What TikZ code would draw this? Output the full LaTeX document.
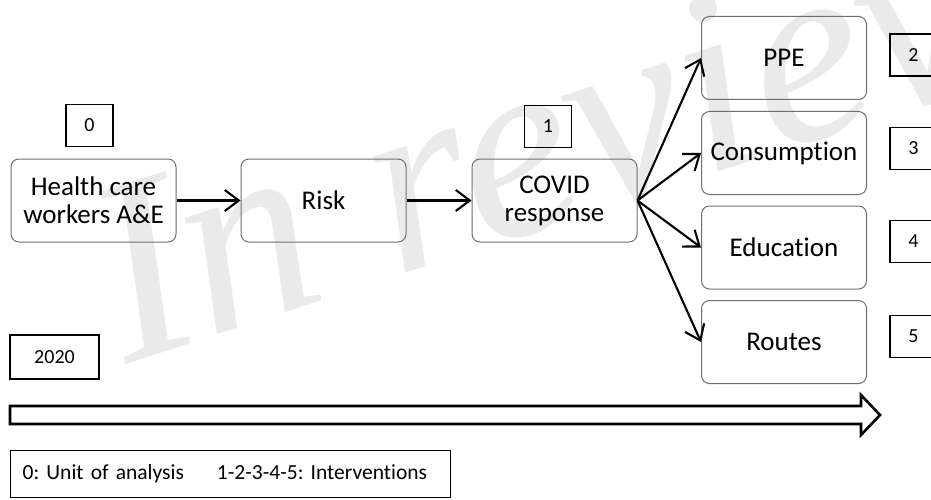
\documentclass[tikz,border=0pt]{standalone}
\usepackage{fontspec}
\setmainfont{Carlito}[RawFeature=-liga]
\newfontfamily\wmfont{Liberation Serif}
\usetikzlibrary{arrows.meta,positioning}
\definecolor{edge}{HTML}{6E6E6E}
\definecolor{wm}{HTML}{EAEAEA}
\tikzset{
  stage/.style={draw=edge, line width=1pt, rounded corners=8pt, align=center,
                minimum width=165pt, minimum height=83pt, inner sep=2pt,
                font=\fontsize{27}{28}\selectfont},
  num/.style={draw=black, line width=1.2pt, minimum width=47pt, minimum height=42pt,
              inner sep=0pt, font=\fontsize{20}{24}\selectfont},
  flow/.style={-{Straight Barb[length=14pt, width=21pt]}, line width=2.1pt},
  wmark/.style={text=wm, font=\wmfont\itshape\fontsize{262}{262}\selectfont},
}
\frenchspacing

\begin{document}
\begin{tikzpicture}[x=1pt, y=-1pt]
  \useasboundingbox (0,0) rectangle (931,500);
  % watermark
  \node[wmark, rotate=18] (wm) at (562,133) {In review};

  % unit of analysis -> risk -> response
  \node[stage] (hcw) at (93.5,200.5) {Health care\\workers A\&E};
  \node[stage] (risk) at (323.5,200.5) {Risk};
  \node[stage] (covid) at (554.5,200.5) {COVID\\response};
  \node[num] (n0) at (89.5,125.5) {0};
  \node[num] (n1) at (548,126.5) {1};
  \draw[flow] (hcw) -- (risk);
  \draw[flow] (risk) -- (covid);

  % interventions
  \foreach \n/\t/\y/\k/\ky in {ppe/PPE/58/2/55, cons/Consumption/153/3/148.5,
                               edu/Education/247.5/4/241.5, rou/Routes/342/5/336.5}
    { \node[stage] (\n) at (784,\y) {\t};
      \node[num] (n\k) at (913.5,\ky) {\k};
      \draw[flow] (covid.east) -- (\n.west); }

  % time line and key
  \node[num, minimum width=89pt, minimum height=44pt] (yr) at (54.5,357) {2020};
  \draw[line width=2.6pt, line join=miter] (10,406) -- (861,406) -- (861,395) -- (880,415)
    -- (861,435) -- (861,424) -- (10,424) -- cycle;
  \node[num, anchor=north west, minimum width=440pt, minimum height=47pt, text width=416pt,
        align=left, inner xsep=12pt, font=\fontsize{21.5}{24}\selectfont] (key) at (10,450)
    {0: Unit of analysis\hspace{33pt}1-2-3-4-5: Interventions};
\end{tikzpicture}
\end{document}
